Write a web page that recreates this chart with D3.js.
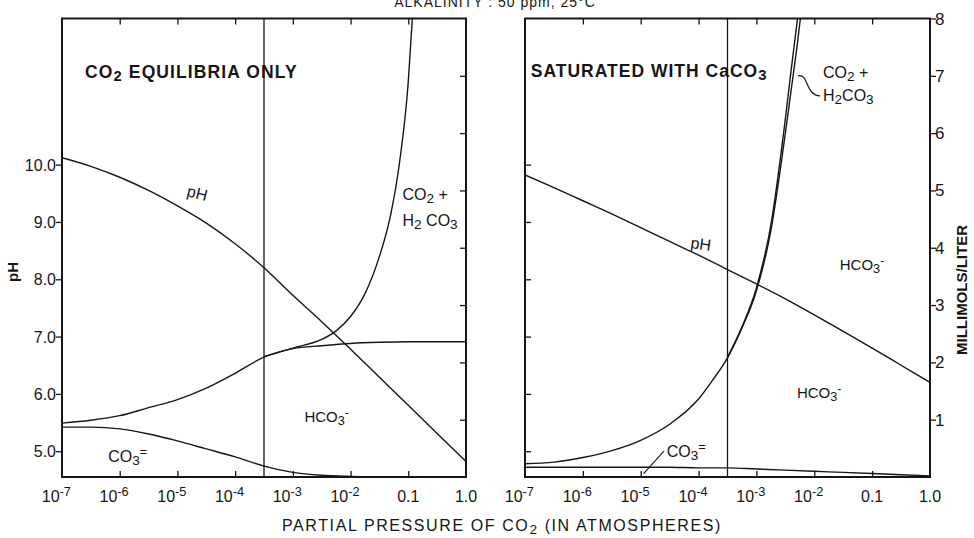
<!DOCTYPE html>
<html>
<head>
<meta charset="utf-8">
<script src="https://cdn.jsdelivr.net/npm/d3@7"></script>
<style>
  body { margin: 0; background: #fff; }
  svg text { font-family: "Liberation Sans", Arial, sans-serif; fill: #161616; }
</style>
</head>
<body>
<svg id="chart" width="974" height="538"></svg>
<script>
// x is log10 of the partial pressure of CO2 (atm)
const logP = [-7, -6.5, -6, -5.5, -5, -4.5, -4, -3.5, -3, -2.5, -2, -1.5, -1, -0.5, 0];

// left panel - CO2 equilibria only
const leftPH   = [10.12, 9.97, 9.78, 9.55, 9.28, 8.98, 8.62, 8.2, 7.72, 7.26, 6.78, 6.29, 5.8, 5.31, 4.82];
const leftCO3  = [0.87, 0.87, 0.84, 0.75, 0.63, 0.49, 0.35, 0.19, 0.08, 0.03, 0.01, 0, 0, 0, 0];
const leftHCO3 = [0.94, 0.99, 1.07, 1.21, 1.35, 1.55, 1.81, 2.09, 2.24, 2.29, 2.33, 2.35, 2.36, 2.36, 2.36];
const leftTotLogP = [-3.5, -3, -2.5, -2.25, -2, -1.75, -1.5, -1.3, -1.15, -1.0, -0.93];
const leftTotal   = [2.10, 2.25, 2.40, 2.55, 2.80, 3.2, 3.85, 4.6, 5.5, 6.9, 8.0];

// right panel - saturated with CaCO3
const rightPH  = [9.82, 9.6, 9.37, 9.14, 8.9, 8.66, 8.42, 8.17, 7.92, 7.66, 7.38, 7.09, 6.8, 6.5, 6.2];
const rightCO3 = [0.17, 0.17, 0.17, 0.17, 0.17, 0.17, 0.16, 0.16, 0.14, 0.12, 0.1, 0.08, 0.06, 0.04, 0.02];
const rightCurveLogP = [-7, -6.5, -6, -5.5, -5, -4.5, -4, -3.75, -3.5, -3.25, -3, -2.75, -2.5, -2.4, -2.3, -2.24];
const rightHCO3      = [0.23, 0.26, 0.34, 0.46, 0.64, 0.92, 1.36, 1.70, 2.08, 2.6, 3.25, 4.3, 6.0, 6.75, 7.5, 8.0];
const rightTotLogP = [-3.5, -3.25, -3, -2.75, -2.5, -2.4, -2.29];
const rightTotal   = [2.09, 2.62, 3.3, 4.4, 6.25, 7.1, 8.0];

// atmospheric CO2 marker line
const atmLogP = -3.5;

// tick labels
const xTicks = [-7, -6, -5, -4, -3, -2, -1, 0];
const xTickLabels = [["10", "-7"], ["10", "-6"], ["10", "-5"], ["10", "-4"], ["10", "-3"], ["10", "-2"], ["0.1"], ["1.0"]];
const pHTicks = [5, 6, 7, 8, 9, 10];
const mmTicks = [1, 2, 3, 4, 5, 6, 7, 8];

const svg = d3.select("#chart");
svg.append("rect").attr("width", 974).attr("height", 538).attr("fill", "#fff");

const yTop = 18.5, yBottom = 477;
const mm = d3.scaleLinear().domain([0, 8]).range([yBottom, yTop]);
const ph = d3.scaleLinear().domain([4.55, 12.55]).range([yBottom, yTop]);
const xL = d3.scaleLinear().domain([-7, 0]).range([62, 466]);
const xR = d3.scaleLinear().domain([-7, 0]).range([525, 930]);

// text helper: parts are [text] or [text, "sub"|"sup"]
function label(g, x, y, parts, opts = {}) {
  const t = g.append("text")
    .attr("x", x).attr("y", y)
    .attr("font-size", opts.size || 16)
    .attr("font-weight", opts.weight || "normal")
    .attr("text-anchor", opts.anchor || "start");
  if (opts.spacing) t.attr("letter-spacing", opts.spacing);
  if (opts.rotate) t.attr("transform", `rotate(${opts.rotate},${x},${y})`);
  parts.forEach(p => {
    const s = t.append("tspan").text(p[0]);
    if (p[1] === "sub") s.attr("baseline-shift", "-22%").attr("font-size", "0.85em");
    if (p[1] === "sup") s.attr("baseline-shift", "45%").attr("font-size", "0.8em");
  });
  return t;
}

function tickStyle(g) {
  g.select(".domain").remove();
  g.selectAll(".tick line").attr("stroke", "#161616").attr("stroke-width", 1.3);
  g.selectAll(".tick text").remove();
}

function panel(x, clipId) {
  const g = svg.append("g");
  g.append("clipPath").attr("id", clipId)
    .append("rect").attr("x", x.range()[0]).attr("y", yTop)
    .attr("width", x.range()[1] - x.range()[0]).attr("height", yBottom - yTop);

  // top and bottom inner ticks
  g.append("g").attr("transform", `translate(0,${yTop})`)
    .call(d3.axisBottom(x).tickValues(xTicks.slice(1, -1)).tickSize(6)).call(tickStyle);
  g.append("g").attr("transform", `translate(0,${yBottom})`)
    .call(d3.axisTop(x).tickValues(xTicks.slice(1, -1)).tickSize(6)).call(tickStyle);

  // x tick labels
  xTicks.forEach((v, i) => {
    const parts = xTickLabels[i];
    const t = label(g, x(v), 502, parts.length > 1 ? [[parts[0]], [parts[1], "sup"]] : [[parts[0]]],
      { size: 16, anchor: parts.length > 1 ? "end" : "middle" });
    if (parts.length > 1) t.attr("dx", 9);
  });

  // atmospheric line
  g.append("line")
    .attr("x1", x(atmLogP)).attr("x2", x(atmLogP))
    .attr("y1", yTop).attr("y2", yBottom)
    .attr("stroke", "#161616").attr("stroke-width", 1.3);

  const curves = g.append("g").attr("clip-path", `url(#${clipId})`)
    .attr("fill", "none").attr("stroke", "#161616").attr("stroke-width", 1.4);

  // frame
  g.append("rect")
    .attr("x", x.range()[0]).attr("y", yTop)
    .attr("width", x.range()[1] - x.range()[0]).attr("height", yBottom - yTop)
    .attr("fill", "none").attr("stroke", "#161616").attr("stroke-width", 2);

  return { g, curves };
}

function drawLine(target, x, y, xs, ys) {
  target.append("path")
    .datum(xs.map((v, i) => [v, ys[i]]))
    .attr("d", d3.line().x(d => x(d[0])).y(d => y(d[1])).curve(d3.curveMonotoneX));
}

// ---- left panel
const L = panel(xL, "clipL");
drawLine(L.curves, xL, ph, logP, leftPH);
drawLine(L.curves, xL, mm, logP, leftCO3);
drawLine(L.curves, xL, mm, logP, leftHCO3);
drawLine(L.curves, xL, mm, leftTotLogP, leftTotal);

L.g.append("g").attr("transform", `translate(${xL.range()[0]},0)`)
  .call(d3.axisLeft(ph).tickValues(pHTicks).tickSize(6)).call(tickStyle);
pHTicks.forEach(v => label(L.g, xL.range()[0] - 6, ph(v) + 6, [[d3.format(".1f")(v)]], { size: 16, anchor: "end" }));
L.g.append("g").attr("transform", `translate(${xL.range()[1]},0)`)
  .call(d3.axisLeft(mm).tickValues(mmTicks.slice(0, -1)).tickSize(6)).call(tickStyle);

label(L.g, xL(-6.6), 78, [["CO"], ["2", "sub"], ["  EQUILIBRIA ONLY"]], { size: 17.5, weight: "bold", spacing: 1.1 });
label(L.g, xL(-4.85), 196, [["pH"]], { size: 16, rotate: 14 });
label(L.g, xL(-1.1), 200, [["CO"], ["2", "sub"], [" +"]], { size: 16 });
label(L.g, xL(-1.1), 226, [["H"], ["2", "sub"], [" CO"], ["3", "sub"]], { size: 16 });
label(L.g, xL(-2.8), 422, [["HCO"], ["3", "sub"], ["-", "sup"]], { size: 15 });
label(L.g, xL(-6.2), 462, [["CO"], ["3", "sub"], ["=", "sup"]], { size: 16 });

// ---- right panel
const R = panel(xR, "clipR");
drawLine(R.curves, xR, ph, logP, rightPH);
drawLine(R.curves, xR, mm, logP, rightCO3);
drawLine(R.curves, xR, mm, rightCurveLogP, rightHCO3);
drawLine(R.curves, xR, mm, rightTotLogP, rightTotal);

R.g.append("g").attr("transform", `translate(${xR.range()[0]},0)`)
  .call(d3.axisRight(ph).tickValues(pHTicks).tickSize(6)).call(tickStyle);
R.g.append("g").attr("transform", `translate(${xR.range()[1]},0)`)
  .call(d3.axisRight(mm).tickValues(mmTicks).tickSize(6)).call(tickStyle);
mmTicks.forEach(v => label(R.g, xR.range()[1] + 5, mm(v) + 6, [[String(v)]], { size: 17 }));

label(R.g, xR(-6.9), 77, [["SATURATED WITH CaCO"], ["3", "sub"]], { size: 17.5, weight: "bold", spacing: 1 });
label(R.g, xR(-1.85), 78, [["CO"], ["2", "sub"], [" +"]], { size: 16 });
label(R.g, xR(-1.85), 101, [["H"], ["2", "sub"], ["CO"], ["3", "sub"]], { size: 16 });
R.g.append("path")
  .attr("d", `M${xR(-2.28)},${mm(7.0)} C${xR(-2.1)},${mm(7.05)} ${xR(-2.15)},${mm(6.65)} ${xR(-1.9)},${mm(6.65)}`)
  .attr("fill", "none").attr("stroke", "#161616").attr("stroke-width", 1.2);
label(R.g, xR(-4.15), 248, [["pH"]], { size: 16, rotate: 8 });
label(R.g, xR(-1.56), 270, [["HCO"], ["3", "sub"], ["-", "sup"]], { size: 15 });
label(R.g, xR(-2.3), 398, [["HCO"], ["3", "sub"], ["-", "sup"]], { size: 15 });
label(R.g, xR(-4.55), 457, [["CO"], ["3", "sub"], ["=", "sup"]], { size: 16 });
R.g.append("line")
  .attr("x1", xR(-4.95)).attr("y1", mm(0.06)).attr("x2", xR(-4.6)).attr("y2", mm(0.45))
  .attr("stroke", "#161616").attr("stroke-width", 1.1);

// axis titles
label(svg, 502, 531, [["PARTIAL PRESSURE OF CO"], ["2", "sub"], [" (IN ATMOSPHERES)"]], { size: 16, anchor: "middle", spacing: 1.6 });
label(svg, 18, 272, [["pH"]], { size: 15, weight: "bold", anchor: "middle", rotate: -90 });
label(svg, 967, 290, [["MILLIMOLS/LITER"]], { size: 15, weight: "bold", anchor: "middle", rotate: -90 });
// header, clipped at the top of the page as in the source scan
label(svg, 495, 7, [["ALKALINITY : 50 ppm, 25°C"]], { size: 14, anchor: "middle", spacing: 1 });
</script>
</body>
</html>
